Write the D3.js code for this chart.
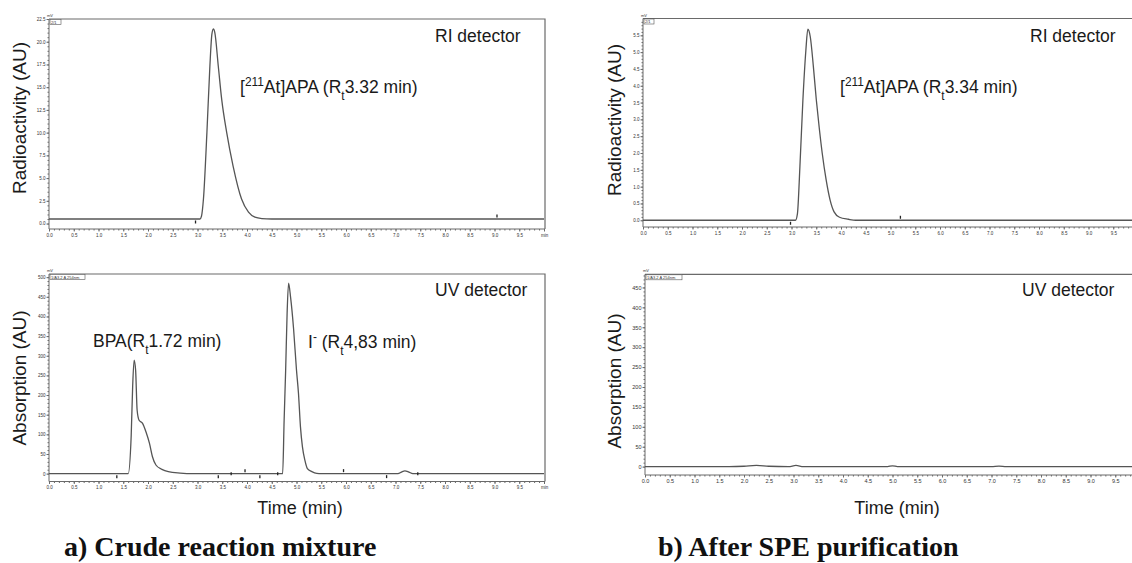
<html>
<head>
<script src="https://d3js.org/d3.v7.min.js"></script>
<style>
  body { margin: 0; background: #ffffff; }
  svg text { font-family: "Liberation Sans", Arial, sans-serif; }
</style>
</head>
<body>
<div id="chart"></div>
<script>
// chromatogram traces: [time (min), signal]
const riCrude = [[0,0.5],[2.9,0.5],[3.05,0.5],[3.08,0.8],[3.12,2.7],[3.19,10],[3.25,17.3],[3.29,20.8],[3.32,21.4],[3.35,21.0],[3.42,17.3],[3.49,13.6],[3.59,10],[3.72,6.3],[3.89,2.7],[4.03,1.25],[4.16,0.7],[4.3,0.55],[4.5,0.5],[10,0.5]];
const uvCrude = [[0,0],[1.6,0],[1.66,95],[1.69,222],[1.72,289],[1.75,263],[1.78,162],[1.82,136],[1.89,128],[1.96,106],[2.03,77],[2.09,43],[2.16,22],[2.28,11],[2.41,5],[2.65,1.5],[2.9,0],[4.72,0],[4.75,136],[4.78,260],[4.81,407],[4.84,485],[4.88,449],[4.94,370],[5.0,263],[5.04,204],[5.08,119],[5.12,68],[5.17,34],[5.22,13],[5.31,5],[5.41,0.5],[5.5,0],[7.05,0],[7.12,4],[7.19,7],[7.27,4],[7.35,0],[10,0]];
const riPure = [[0,0],[3.08,0],[3.12,0.2],[3.17,1.6],[3.23,3.57],[3.29,5.05],[3.33,5.68],[3.38,5.45],[3.44,4.6],[3.5,3.6],[3.56,2.75],[3.62,2.0],[3.7,1.2],[3.78,0.6],[3.86,0.25],[3.97,0.09],[4.15,0.03],[4.3,0],[10,0]];
const uvPure = [[0,0],[1.7,0],[2.0,1],[2.25,3],[2.5,1],[2.9,0],[3.05,3],[3.2,0],[4.9,0],[5.0,2],[5.1,0],[7.0,0],[7.15,1.5],[7.3,0],[10,0]];

// integration markers: [time, side] (-1 below, 0 on, 1 above the trace)
const riCrudeMarks = [[2.96,-1],[9.05,1]];
const uvCrudeMarks = [[1.37,-1],[3.42,-1],[3.68,0],[3.96,1],[4.26,-1],[4.62,0],[5.95,1],[6.82,-1],[7.45,0]];
const riPureMarks = [[2.98,-1],[5.2,1]];

// tick labels
const timeTicks = d3.range(0, 10.01, 0.5);
const timeTicksCut = d3.range(0, 9.51, 0.5);
const riCrudeTicks = d3.range(0, 22.6, 2.5);
const riPureTicks = d3.range(0, 5.6, 0.5);
const uvCrudeTicks = d3.range(0, 501, 50);
const uvPureTicks = d3.range(0, 451, 50);

const W = 1132, H = 563;
const svg = d3.select("#chart").append("svg").attr("width", W).attr("height", H);

const lineCol = "#555", frameCol = "#6a6a6a";

function drawPanel(p) {
  const g = svg.append("g");
  const x = d3.scaleLinear().domain([0, 10.02]).range([p.x0, p.x0 + 496]);
  const y = d3.scaleLinear().domain([p.ymin, p.ymax]).range([p.bottom, p.top]);

  // frame top + right
  g.append("path")
    .attr("d", `M${x(0)},${p.top}H${x(10.02)}V${p.bottom}`)
    .attr("fill", "none").attr("stroke", frameCol).attr("stroke-width", 1.2);

  // minor ticks
  g.append("g").attr("transform", `translate(0,${p.bottom})`)
    .call(d3.axisBottom(x).tickValues(d3.range(0, 10.01, 0.1)).tickSize(1.5).tickFormat(""))
    .call(a => a.select(".domain").remove())
    .selectAll("line").attr("stroke", frameCol);
  const ystep = p.yticks[1] - p.yticks[0];
  g.append("g").attr("transform", `translate(${p.x0},0)`)
    .call(d3.axisLeft(y).tickValues(d3.range(0, p.ymax, ystep / 5)).tickSize(1.5).tickFormat(""))
    .call(a => a.select(".domain").remove())
    .selectAll("line").attr("stroke", frameCol);

  // major axes
  const xa = g.append("g").attr("transform", `translate(0,${p.bottom})`)
    .call(d3.axisBottom(x).tickValues(p.xticks).tickSize(2.5).tickPadding(2)
      .tickFormat(d => d >= 10 ? "min" : d3.format(".1f")(d)));
  xa.select(".domain").attr("d", `M${x(0)},0H${x(10.02)}`).attr("stroke", frameCol);
  xa.selectAll("line").attr("stroke", frameCol);
  xa.selectAll("text").attr("font-size", p.fs).attr("fill", "#333");

  const ya = g.append("g").attr("transform", `translate(${p.x0},0)`)
    .call(d3.axisLeft(y).tickValues(p.yticks).tickSize(2.5).tickPadding(1).tickFormat(d3.format(p.yfmt)));
  ya.select(".domain").attr("d", `M0,${p.top}V${p.bottom}`).attr("stroke", frameCol);
  ya.selectAll("line").attr("stroke", frameCol);
  ya.selectAll("text").attr("font-size", p.fs).attr("fill", "#333");

  // unit + channel box
  g.append("text").attr("x", p.x0 - 2).attr("y", p.top - 2).attr("font-size", 4).attr("fill", "#333").text("mV");
  g.append("rect").attr("x", p.x0 + 1).attr("y", p.top + 0.5).attr("width", p.boxW).attr("height", 5)
    .attr("fill", "#fff").attr("stroke", "#555").attr("stroke-width", 0.6);
  g.append("text").attr("x", p.x0 + 2).attr("y", p.top + 4.5).attr("font-size", 4).attr("fill", "#333").text(p.box);

  // trace
  const line = d3.line().x(d => x(d[0])).y(d => y(d[1])).curve(d3.curveMonotoneX);
  g.append("path").datum(p.data).attr("d", line)
    .attr("fill", "none").attr("stroke", lineCol).attr("stroke-width", 1.3);

  // markers
  const base = p.data[0][1];
  g.selectAll(".mk").data(p.marks).join("line")
    .attr("x1", d => x(d[0])).attr("x2", d => x(d[0]))
    .attr("y1", d => y(base) - d[1] * 3 - 1.5).attr("y2", d => y(base) - d[1] * 3 + 1.5)
    .attr("stroke", "#222").attr("stroke-width", 1.3);
}

drawPanel({ x0: 49, top: 19, bottom: 229, ymin: -0.6, ymax: 22.5, yticks: riCrudeTicks, yfmt: ".1f",
  xticks: timeTicks, data: riCrude, marks: riCrudeMarks, fs: 4.5, box: "2/1", boxW: 11 });
drawPanel({ x0: 49, top: 274, bottom: 481.5, ymin: -20, ymax: 508, yticks: uvCrudeTicks, yfmt: "d",
  xticks: timeTicks, data: uvCrude, marks: uvCrudeMarks, fs: 4.5, box: "1/A3.2 A 254nm", boxW: 35 });
drawPanel({ x0: 643, top: 18.5, bottom: 227, ymin: -0.2, ymax: 6.0, yticks: riPureTicks, yfmt: ".1f",
  xticks: timeTicksCut, data: riPure, marks: riPureMarks, fs: 4.5, box: "2/1", boxW: 10 });
drawPanel({ x0: 645, top: 274.3, bottom: 475, ymin: -21, ymax: 483, yticks: uvPureTicks, yfmt: "d",
  xticks: timeTicksCut, data: uvPure, marks: [], fs: 5.5, box: "1/A3.2 A 254nm", boxW: 36 });

// annotations
function label(x, y, parts, size) {
  const t = svg.append("text").attr("x", x).attr("y", y).attr("font-size", size).attr("fill", "#1a1a1a");
  parts.forEach(p => {
    const s = t.append("tspan").text(p[0]);
    if (p[1] === "sup") s.attr("font-size", size * 0.68).attr("baseline-shift", "super");
    if (p[1] === "sub") s.attr("font-size", size * 0.68).attr("baseline-shift", "sub");
  });
}
const fsA = 17.5;
label(435, 42, [["RI detector"]], fsA);
label(240, 93, [["["], ["211", "sup"], ["At]APA (R"], ["t", "sub"], ["3.32 min)"]], fsA);
label(435, 296, [["UV detector"]], fsA);
label(93, 347, [["BPA(R"], ["t", "sub"], ["1.72 min)"]], fsA);
label(308, 348, [["I"], ["-", "sup"], [" (R"], ["t", "sub"], ["4,83 min)"]], fsA);
label(1030, 42, [["RI detector"]], fsA);
label(840, 93, [["["], ["211", "sup"], ["At]APA (R"], ["t", "sub"], ["3.34 min)"]], fsA);
label(1022, 296, [["UV detector"]], fsA);

// axis titles
const titles = [[26, 118, "Radioactivity (AU)"], [621, 120, "Radioactivity (AU)"],
                [26, 378, "Absorption (AU)"], [621, 381, "Absorption (AU)"]];
svg.selectAll(".yt").data(titles).join("text")
  .attr("transform", d => `translate(${d[0]},${d[1]}) rotate(-90)`)
  .attr("text-anchor", "middle").attr("font-size", 19).attr("fill", "#1a1a1a")
  .text(d => d[2]);
svg.selectAll(".xt").data([300, 897]).join("text")
  .attr("x", d => d).attr("y", 514).attr("text-anchor", "middle")
  .attr("font-size", 18).attr("fill", "#1a1a1a").text("Time (min)");

// captions
svg.selectAll(".cap").data([[64, "a) Crude reaction mixture"], [658, "b) After SPE purification"]]).join("text")
  .attr("x", d => d[0]).attr("y", 556)
  .style("font-family", "'Liberation Serif', 'Times New Roman', serif")
  .attr("font-weight", "bold").attr("font-size", 28).attr("fill", "#111")
  .text(d => d[1]);
</script>
</body>
</html>
